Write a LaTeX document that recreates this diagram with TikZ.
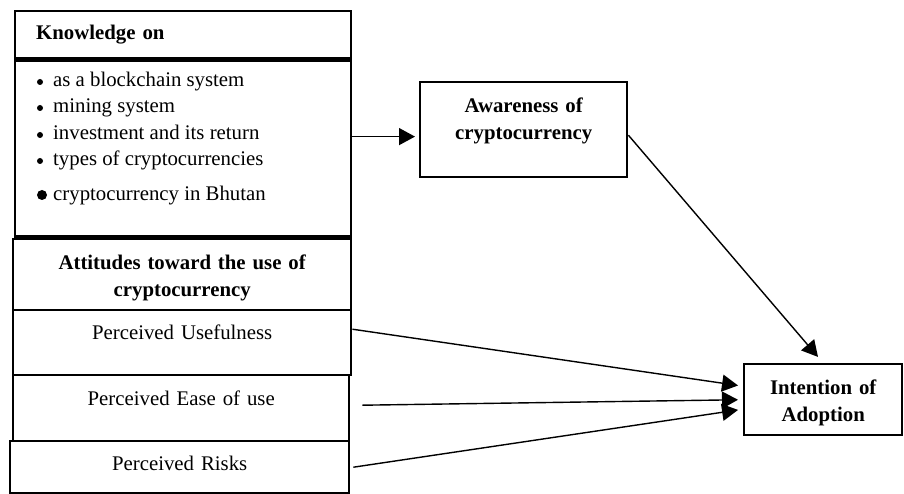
\documentclass[tikz,border=0pt]{standalone}
\usepackage{fontspec}
\setmainfont{Liberation Serif}
\usetikzlibrary{arrows.meta}

\begin{document}
\begin{tikzpicture}[x=1pt,y=-1pt,
  every node/.style={font=\fontsize{20.8}{27}\selectfont},
  box/.style={draw,line width=2.4pt,inner sep=0pt,anchor=north west,align=center},
  hbox/.style={box,font=\fontsize{20.8}{27}\selectfont\bfseries},
  arr/.style={line width=1.4pt,-{Triangle[length=16pt,width=17pt]},shorten >=5pt}]
  \useasboundingbox (0,0) rectangle (904,494);
  \node [hbox,text width=294pt,inner xsep=21pt,minimum height=47pt,align=left] (khead) at (14,10) {Knowledge on};
  \node [box,minimum width=336pt,minimum height=176pt] (kbody) at (khead.south west) {};
  \node [anchor=base west,inner sep=0pt] (k1) at (53,87) {as a blockchain system};
  \node [anchor=base west,inner sep=0pt] (k2) at (53,113) {mining system};
  \node [anchor=base west,inner sep=0pt] (k3) at (53,140) {investment and its return};
  \node [anchor=base west,inner sep=0pt] (k4) at (53,166) {types of cryptocurrencies};
  \node [anchor=base west,inner sep=0pt] (k5) at (53,201) {cryptocurrency in Bhutan};
  \fill (40,82) circle [radius=3pt];
  \fill (40,108) circle [radius=3pt];
  \fill (40,135) circle [radius=3pt];
  \fill (40,161) circle [radius=3pt];
  \fill (42,195) circle [radius=5pt];

  \node [hbox,text width=338pt,text height=30pt,text depth=41pt] (attit) at (12,238) {Attitudes toward the use of\\cryptocurrency};
  \node [box,text width=338pt,text height=29pt,text depth=36pt] (useful) at (12,309) {Perceived Usefulness};
  \node [box,text width=336pt,text height=30pt,text depth=36pt] (ease) at (12,374) {Perceived Ease of use};
  \node [box,text width=339pt,text height=29pt,text depth=23pt] (risk) at (9,440) {Perceived Risks};

  \node [hbox,text width=207pt,text height=30pt,text depth=65pt] (aware) at (419,81) {Awareness of\\cryptocurrency};
  \node [hbox,text width=158pt,text height=30pt,text depth=41pt] (intent) at (743,363) {Intention of\\Adoption};

  \coordinate (kout) at ([yshift=12pt]kbody.east);
  \draw [arr,shorten >=4pt] (kout) -- (kout -| aware.west);
  \draw [arr,shorten >=8pt] ([yshift=-5.5pt]aware.east) -- (intent.north);
  \draw [arr] ([yshift=13.5pt]useful.east) -- ([yshift=13.5pt]intent.west);
  \draw [arr] ([xshift=12pt,yshift=3pt]ease.east) -- (intent.west);
  \draw [arr] ([xshift=3pt]risk.east) -- ([yshift=-9.5pt]intent.west);
\end{tikzpicture}
\end{document}
